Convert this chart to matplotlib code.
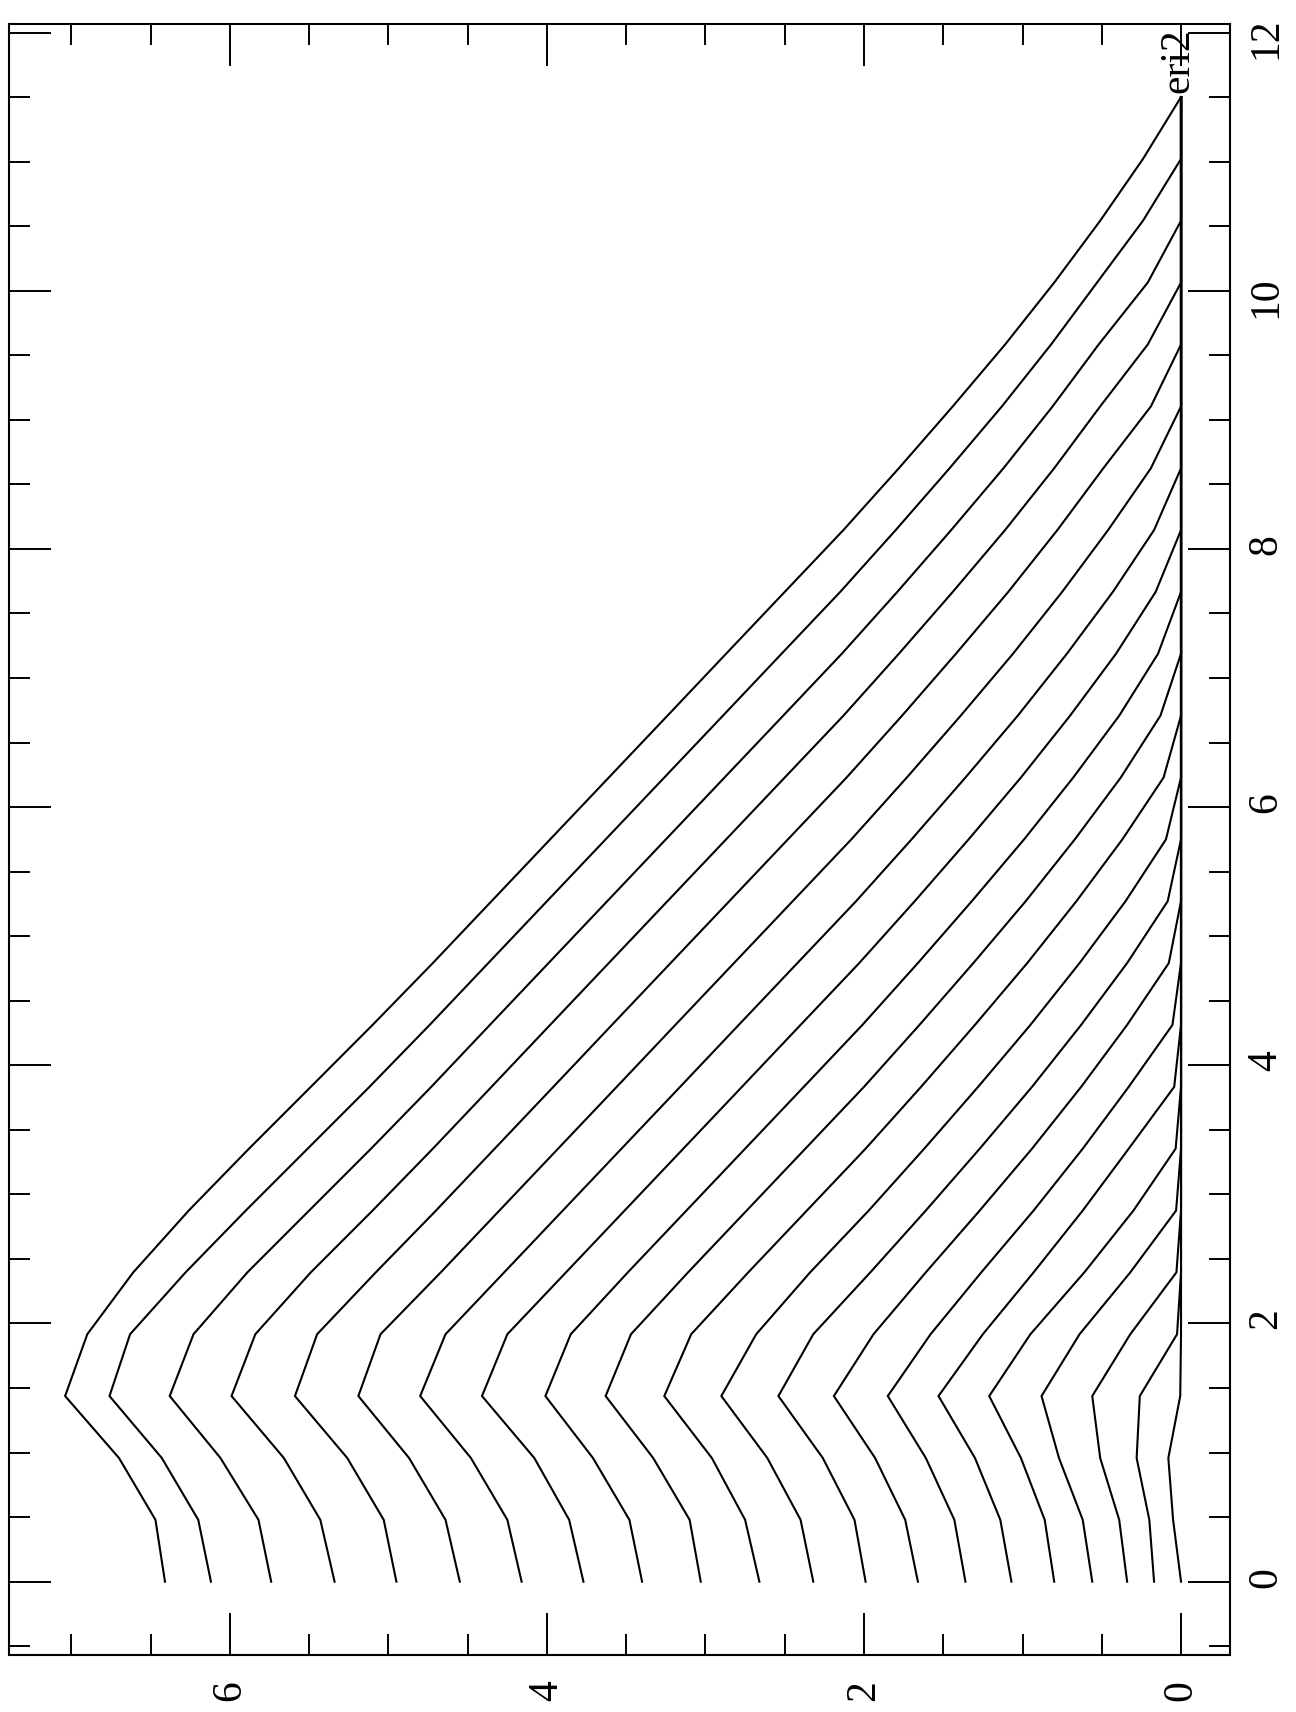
import matplotlib
matplotlib.use("Agg")
import matplotlib.pyplot as plt
from matplotlib.ticker import FixedLocator, MultipleLocator

# sample positions along the profile (vertical axis in the rotated page)
x_grid = [0.0, 0.479, 0.958, 1.438, 1.917, 2.396, 2.875, 3.354, 3.833, 4.313,
          4.792, 5.271, 5.75, 6.229, 6.708, 7.188, 7.667, 8.146, 8.625, 9.104,
          9.583, 10.063, 10.542, 11.021, 11.5]

c01 = [6.41, 6.47, 6.70, 7.04, 6.90, 6.61, 6.26, 5.88, 5.49, 5.10, 4.72, 4.35, 3.98,
       3.61, 3.24, 2.87, 2.50, 2.13, 1.78, 1.44, 1.11, 0.80, 0.51, 0.24, 0]
c02 = [6.12, 6.20, 6.43, 6.76, 6.63, 6.28, 5.90, 5.51, 5.12, 4.74, 4.37, 4.00, 3.63,
       3.26, 2.89, 2.52, 2.15, 1.80, 1.46, 1.13, 0.82, 0.53, 0.24, 0, 0]
c03 = [5.74, 5.82, 6.06, 6.38, 6.23, 5.89, 5.50, 5.11, 4.73, 4.36, 3.99, 3.62, 3.25,
       2.88, 2.51, 2.14, 1.79, 1.45, 1.12, 0.81, 0.52, 0.21, 0, 0, 0]
c04 = [5.34, 5.43, 5.66, 5.99, 5.84, 5.49, 5.10, 4.72, 4.35, 3.98, 3.61, 3.24, 2.87,
       2.50, 2.13, 1.78, 1.44, 1.11, 0.80, 0.51, 0.21, 0, 0, 0, 0]
c05 = [4.95, 5.03, 5.26, 5.59, 5.45, 5.08, 4.70, 4.33, 3.96, 3.59, 3.22, 2.85, 2.48,
       2.11, 1.76, 1.42, 1.09, 0.78, 0.49, 0.19, 0, 0, 0, 0, 0]
c06 = [4.55, 4.64, 4.87, 5.19, 5.05, 4.67, 4.30, 3.93, 3.56, 3.19, 2.82, 2.45, 2.08,
       1.73, 1.39, 1.06, 0.75, 0.46, 0.19, 0, 0, 0, 0, 0, 0]
c07 = [4.16, 4.25, 4.48, 4.80, 4.64, 4.27, 3.90, 3.53, 3.16, 2.79, 2.42, 2.05, 1.70,
       1.36, 1.03, 0.72, 0.43, 0.17, 0, 0, 0, 0, 0, 0, 0]
c08 = [3.77, 3.86, 4.08, 4.41, 4.25, 3.88, 3.51, 3.14, 2.77, 2.40, 2.03, 1.68, 1.34,
       1.01, 0.70, 0.41, 0.16, 0, 0, 0, 0, 0, 0, 0, 0]
c09 = [3.40, 3.48, 3.71, 4.01, 3.85, 3.49, 3.12, 2.75, 2.38, 2.01, 1.66, 1.32, 0.99,
       0.68, 0.39, 0.145, 0, 0, 0, 0, 0, 0, 0, 0, 0]
c10 = [3.03, 3.10, 3.33, 3.63, 3.47, 3.11, 2.74, 2.37, 2.00, 1.65, 1.31, 0.98, 0.67,
       0.38, 0.13, 0, 0, 0, 0, 0, 0, 0, 0, 0, 0]
c11 = [2.66, 2.75, 2.96, 3.26, 3.09, 2.73, 2.36, 1.99, 1.64, 1.30, 0.97, 0.66, 0.37,
       0.11, 0, 0, 0, 0, 0, 0, 0, 0, 0, 0, 0]
c12 = [2.32, 2.40, 2.61, 2.90, 2.68, 2.34, 1.97, 1.62, 1.28, 0.95, 0.64, 0.35, 0.095,
       0, 0, 0, 0, 0, 0, 0, 0, 0, 0, 0, 0]
c13 = [1.99, 2.06, 2.26, 2.54, 2.32, 1.96, 1.61, 1.27, 0.94, 0.63, 0.34, 0.084, 0,
       0, 0, 0, 0, 0, 0, 0, 0, 0, 0, 0, 0]
c14 = [1.66, 1.74, 1.93, 2.19, 1.94, 1.61, 1.27, 0.94, 0.63, 0.34, 0.077, 0, 0,
       0, 0, 0, 0, 0, 0, 0, 0, 0, 0, 0, 0]
c15 = [1.36, 1.43, 1.61, 1.85, 1.58, 1.26, 0.93, 0.62, 0.33, 0.054, 0, 0, 0,
       0, 0, 0, 0, 0, 0, 0, 0, 0, 0, 0, 0]
c16 = [1.07, 1.14, 1.30, 1.53, 1.25, 0.93, 0.62, 0.33, 0.043, 0, 0, 0, 0,
       0, 0, 0, 0, 0, 0, 0, 0, 0, 0, 0, 0]
c17 = [0.80, 0.86, 1.01, 1.21, 0.95, 0.61, 0.30, 0.034, 0, 0, 0, 0, 0,
       0, 0, 0, 0, 0, 0, 0, 0, 0, 0, 0, 0]
c18 = [0.56, 0.62, 0.77, 0.88, 0.64, 0.32, 0.031, 0, 0, 0, 0, 0, 0,
       0, 0, 0, 0, 0, 0, 0, 0, 0, 0, 0, 0]
c19 = [0.34, 0.39, 0.51, 0.56, 0.32, 0.029, 0, 0, 0, 0, 0, 0, 0,
       0, 0, 0, 0, 0, 0, 0, 0, 0, 0, 0, 0]
c20 = [0.17, 0.20, 0.28, 0.26, 0.025, 0, 0, 0, 0, 0, 0, 0, 0,
       0, 0, 0, 0, 0, 0, 0, 0, 0, 0, 0, 0]
c21 = [0.0, 0.05, 0.08, 0.005, 0, 0, 0, 0, 0, 0, 0, 0, 0,
       0, 0, 0, 0, 0, 0, 0, 0, 0, 0, 0, 0]

curves = [c01, c02, c03, c04, c05, c06, c07, c08, c09, c10, c11,
          c12, c13, c14, c15, c16, c17, c18, c19, c20, c21]

x_ticks = [0, 2, 4, 6, 8, 10, 12]
x_tick_labels = ["0", "2", "4", "6", "8", "10", "12"]
y_ticks = [0, 2, 4, 6]
y_tick_labels = ["0", "2", "4", "6"]
curve_label = "eri2"

FONT = ["Liberation Serif", "DejaVu Serif"]

W, H = 1296, 1712
fig = plt.figure(figsize=(W / 100, H / 100), dpi=100)
fig.patch.set_facecolor("white")
L, R, T, B = 9, 1230, 24, 1655
ax = fig.add_axes([L / W, 1 - B / H, (R - L) / W, (B - T) / H])

for vals in curves:
    ax.plot(vals, x_grid, color="black", lw=1.5, solid_joinstyle="miter")

# page is rotated: data value runs right-to-left, profile coordinate bottom-to-top
ax.set_xlim(7.394, -0.309)
ax.set_ylim(-0.568, 12.066)

ax.xaxis.set_major_locator(FixedLocator(y_ticks))
ax.xaxis.set_minor_locator(MultipleLocator(0.5))
ax.set_xticklabels(y_tick_labels)
ax.yaxis.set_major_locator(FixedLocator(x_ticks))
ax.yaxis.set_minor_locator(MultipleLocator(0.5))
ax.set_yticklabels(x_tick_labels)

ax.tick_params(axis="x", which="both", direction="in", top=True, bottom=True,
               labelbottom=True, labeltop=False, labelrotation=90, pad=18)
ax.tick_params(axis="y", which="both", direction="in", left=True, right=True,
               labelleft=False, labelright=True, labelrotation=90, pad=12)
ax.tick_params(which="major", length=30, width=1.4, labelsize=30)
ax.tick_params(which="minor", length=15, width=1.4)
for lab in ax.get_xticklabels() + ax.get_yticklabels():
    lab.set_family(FONT)

for sp in ax.spines.values():
    sp.set_linewidth(1.5)

ax.text(-0.045, 11.53, curve_label, rotation=90, rotation_mode="anchor",
        ha="left", va="baseline", fontsize=30, family=FONT)

fig.savefig("out.png", dpi=100, facecolor="white")
